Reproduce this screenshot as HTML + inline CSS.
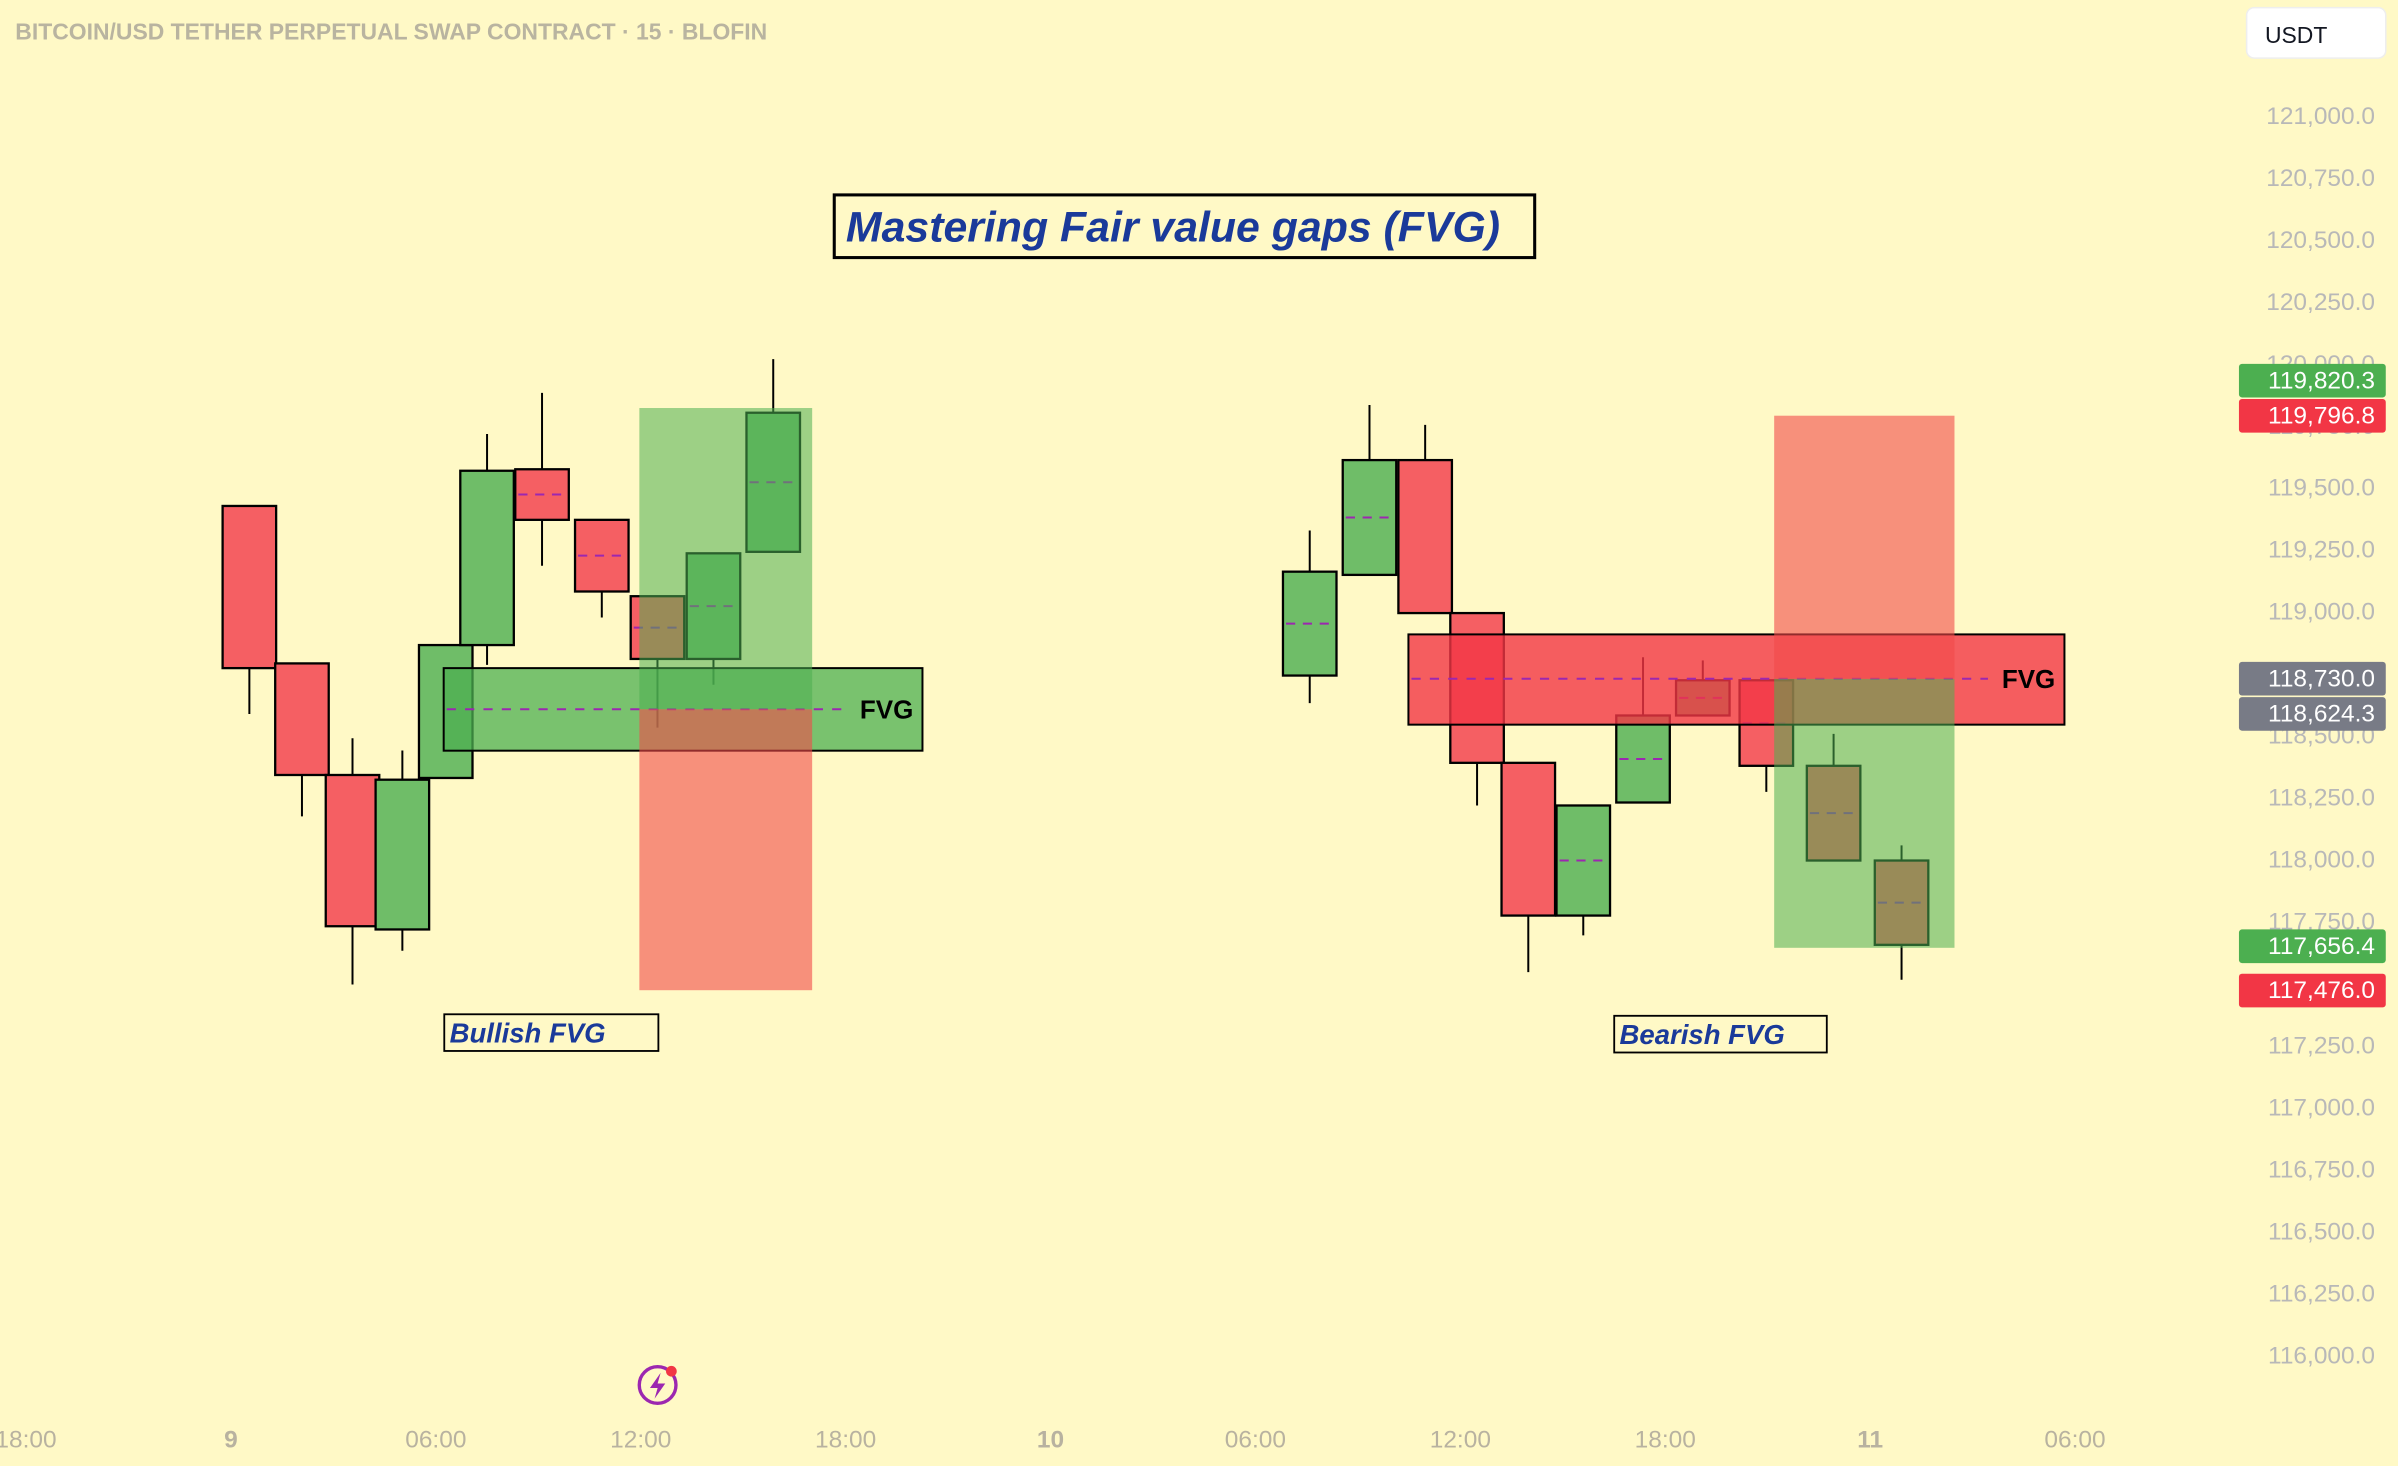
<!DOCTYPE html>
<html><head><meta charset="utf-8"><style>
html,body{margin:0;padding:0;background:#fff9c6;}
svg{display:block;font-family:"Liberation Sans",sans-serif;}
</style></head><body>
<svg id="chart" width="2398" height="1466" viewBox="0 0 1568 959" preserveAspectRatio="none" xmlns="http://www.w3.org/2000/svg">
<rect x="0" y="0" width="1568" height="959" fill="#fff9c6"/>
<text x="10" y="26" font-size="15" font-weight="bold" fill="#b9b4a0">BITCOIN/USD TETHER PERPETUAL SWAP CONTRACT · 15 · BLOFIN</text>
<g>
<rect x="1469" y="5" width="91" height="33" rx="5" fill="#ffffff" stroke="#eeeeee"/>
<text x="1481" y="28" font-size="15" fill="#131722">USDT</text>
</g>
<g id="yaxis"></g>
<g id="xaxis"></g>
<g id="candles"></g>
<g id="zones"></g>
<g id="badges"></g>
<g>
<rect x="545.5" y="127.5" width="458" height="41" fill="#fff9c6" stroke="#000" stroke-width="2"/>
<text x="767" y="158" font-size="28" font-weight="bold" font-style="italic" fill="#1a3a9a" text-anchor="middle">Mastering Fair value gaps (FVG)</text>
</g>
<g>
<rect x="290.5" y="663.5" width="140" height="24" fill="#fff9c6" stroke="#000" stroke-width="1.2"/>
<text x="294" y="682" font-size="18" font-weight="bold" font-style="italic" fill="#1a3a9a">Bullish FVG</text>
</g>
<g>
<rect x="1055.5" y="664.5" width="139" height="24" fill="#fff9c6" stroke="#000" stroke-width="1.2"/>
<text x="1059" y="683" font-size="18" font-weight="bold" font-style="italic" fill="#1a3a9a">Bearish FVG</text>
</g>
<g>
<circle cx="430" cy="906" r="12" fill="none" stroke="#9c27b0" stroke-width="2.2"/>
<path d="M432 898 L425 908 L430 908 L428 915 L435 905 L430 905 Z" fill="#9c27b0"/>
<circle cx="439" cy="897" r="3.5" fill="#f23645"/>
</g>
</svg>
<script>
// ---- data ----
const yTicks = [121000,120750,120500,120250,120000,119750,119500,119250,119000,118750,118500,118250,118000,117750,117500,117250,117000,116750,116500,116250,116000];
const timeLabels = ["18:00","9","06:00","12:00","18:00","10","06:00","12:00","18:00","11","06:00"];
const timeHours = [-6,0,6,12,18,24,30,36,42,48,54];
const candleHours = [0.54,2.08,3.56,5.02,6.29,7.5,9.11,10.86,12.49,14.13,15.88, 31.59,33.34,34.97,36.49,37.99,39.6,41.35,43.1,44.96,46.93,48.92];
const opens  = [119428,118793,118343,117720,118331,118867,119576,119372,119064,118811,119243, 118744,119150,119613,118996,118392,117776,118232,118583,118725,118380,117998];
const closes = [118774,118343,117733,118324,118867,119570,119372,119083,118811,119237,119804, 119163,119613,118996,118392,117776,118220,118583,118725,118380,117998,117658];
const highs  = [119428,118793,118491,118442,118867,119718,119884,119372,119064,119237,120020, 119329,119835,119755,118996,118392,118220,118818,118805,118725,118509,118059];
const lows   = [118589,118176,117498,117634,118331,118787,119187,118978,118534,118707,119243, 118633,119150,118996,118220,117548,117696,118232,118583,118275,117998,117517];
const midDash = [0,0,0,0,0,0,1,1,1,1,1, 1,1,0,0,0,1,1,1,1,1,1];
// zones: [startHour,endHour,topPrice,bottomPrice]
const fvgBoxes = [[6.23,20.25,118774,118441],[34.48,53.69,118910,118546]];
const fvgMid = [118608,118731];
const shadeGreen = [[11.96,17.02,119823,118608],[45.19,50.47,118731,117646]];
const shadeRed = [[11.96,17.02,118608,117475],[45.19,50.47,119792,118731]];
const badgeValues = ["119,820.3","119,796.8","118,730.0","118,624.3","117,656.4","117,476.0"];
const badgeColors = ["#4caf50","#f23645","#787b86","#787b86","#4caf50","#f23645"];
const badgeY = [249,272,444,467,619,648];

// ---- scales ----
const X = h => 151 + h*22.33;
const Y = p => 76 + (121000-p)*0.1622;
const NS="http://www.w3.org/2000/svg";
function mk(tag, attrs, parent){const e=document.createElementNS(NS,tag);for(const k in attrs)e.setAttribute(k,attrs[k]);parent.appendChild(e);return e;}

const ya=document.getElementById('yaxis');
yTicks.forEach(p=>{
  const t=mk('text',{x:1553,y:Y(p)+5,'font-size':16,fill:'#b8b8b8','text-anchor':'end'},ya);
  
  
  t.textContent=p.toLocaleString('en-US',{minimumFractionDigits:1,maximumFractionDigits:1});
});
const xa=document.getElementById('xaxis');
timeLabels.forEach((l,i)=>{
  const bold=!l.includes(':');
  const t=mk('text',{x:X(timeHours[i]),y:947,'font-size':16,fill:'#b8b2a0','text-anchor':'middle','font-weight':bold?'bold':'normal'},xa);
  
  
  t.textContent=l;
});

const cg=document.getElementById('candles');
const W=35;
candleHours.forEach((h,i)=>{
  const cx=X(h), up=closes[i]>=opens[i];
  const g=mk('g',{},cg);
  
  
  mk('line',{x1:cx,x2:cx,y1:Y(highs[i]),y2:Y(lows[i]),stroke:'#000','stroke-width':1.3},g);
  const top=Y(Math.max(opens[i],closes[i])), bot=Y(Math.min(opens[i],closes[i]));
  mk('rect',{x:cx-W/2,y:top,width:W,height:Math.max(1,bot-top),fill:up?'#6fbd68':'#f55f63',stroke:'#000','stroke-width':1.5},g);
  if(midDash[i]) mk('line',{x1:cx-W/2+2,x2:cx+W/2-2,y1:(top+bot)/2,y2:(top+bot)/2,stroke:'#9c27b0','stroke-width':1.3,'stroke-dasharray':'6 5'},g);
});

const zg=document.getElementById('zones');
fvgBoxes.forEach((b,i)=>{
  const g=mk('g',{},zg);
  
  
  mk('rect',{x:X(b[0]),y:Y(b[2]),width:X(b[1])-X(b[0]),height:Y(b[3])-Y(b[2]),fill:i==0?'rgba(76,175,80,0.75)':'rgba(242,54,69,0.8)',stroke:'#000','stroke-width':1.3},g);
  mk('line',{x1:X(b[0])+2,x2:X(b[1])-50,y1:Y(fvgMid[i]),y2:Y(fvgMid[i]),stroke:'#9c27b0','stroke-width':1.3,'stroke-dasharray':'6 6'},g);
  const t=mk('text',{x:X(b[1])-6,y:Y(fvgMid[i])+6,'font-size':17,'font-weight':'bold',fill:'#000','text-anchor':'end'},g);
  t.textContent='FVG';
});
shadeGreen.forEach(s=>{
  const r=mk('rect',{x:X(s[0]),y:Y(s[2]),width:X(s[1])-X(s[0]),height:Y(s[3])-Y(s[2]),fill:'rgba(76,175,80,0.55)'},zg);
  
  
});
shadeRed.forEach(s=>{
  const r=mk('rect',{x:X(s[0]),y:Y(s[2]),width:X(s[1])-X(s[0]),height:Y(s[3])-Y(s[2]),fill:'rgba(242,74,74,0.6)'},zg);
  
  
});

const bg=document.getElementById('badges');
badgeValues.forEach((v,i)=>{
  const g=mk('g',{},bg);
  
  
  mk('rect',{x:1464,y:badgeY[i]-11,width:96,height:22,rx:2,fill:badgeColors[i]},g);
  const t=mk('text',{x:1553,y:badgeY[i]+5,'font-size':16,fill:'#fff','text-anchor':'end'},g);
  t.textContent=v;
});
</script>
</body></html>
